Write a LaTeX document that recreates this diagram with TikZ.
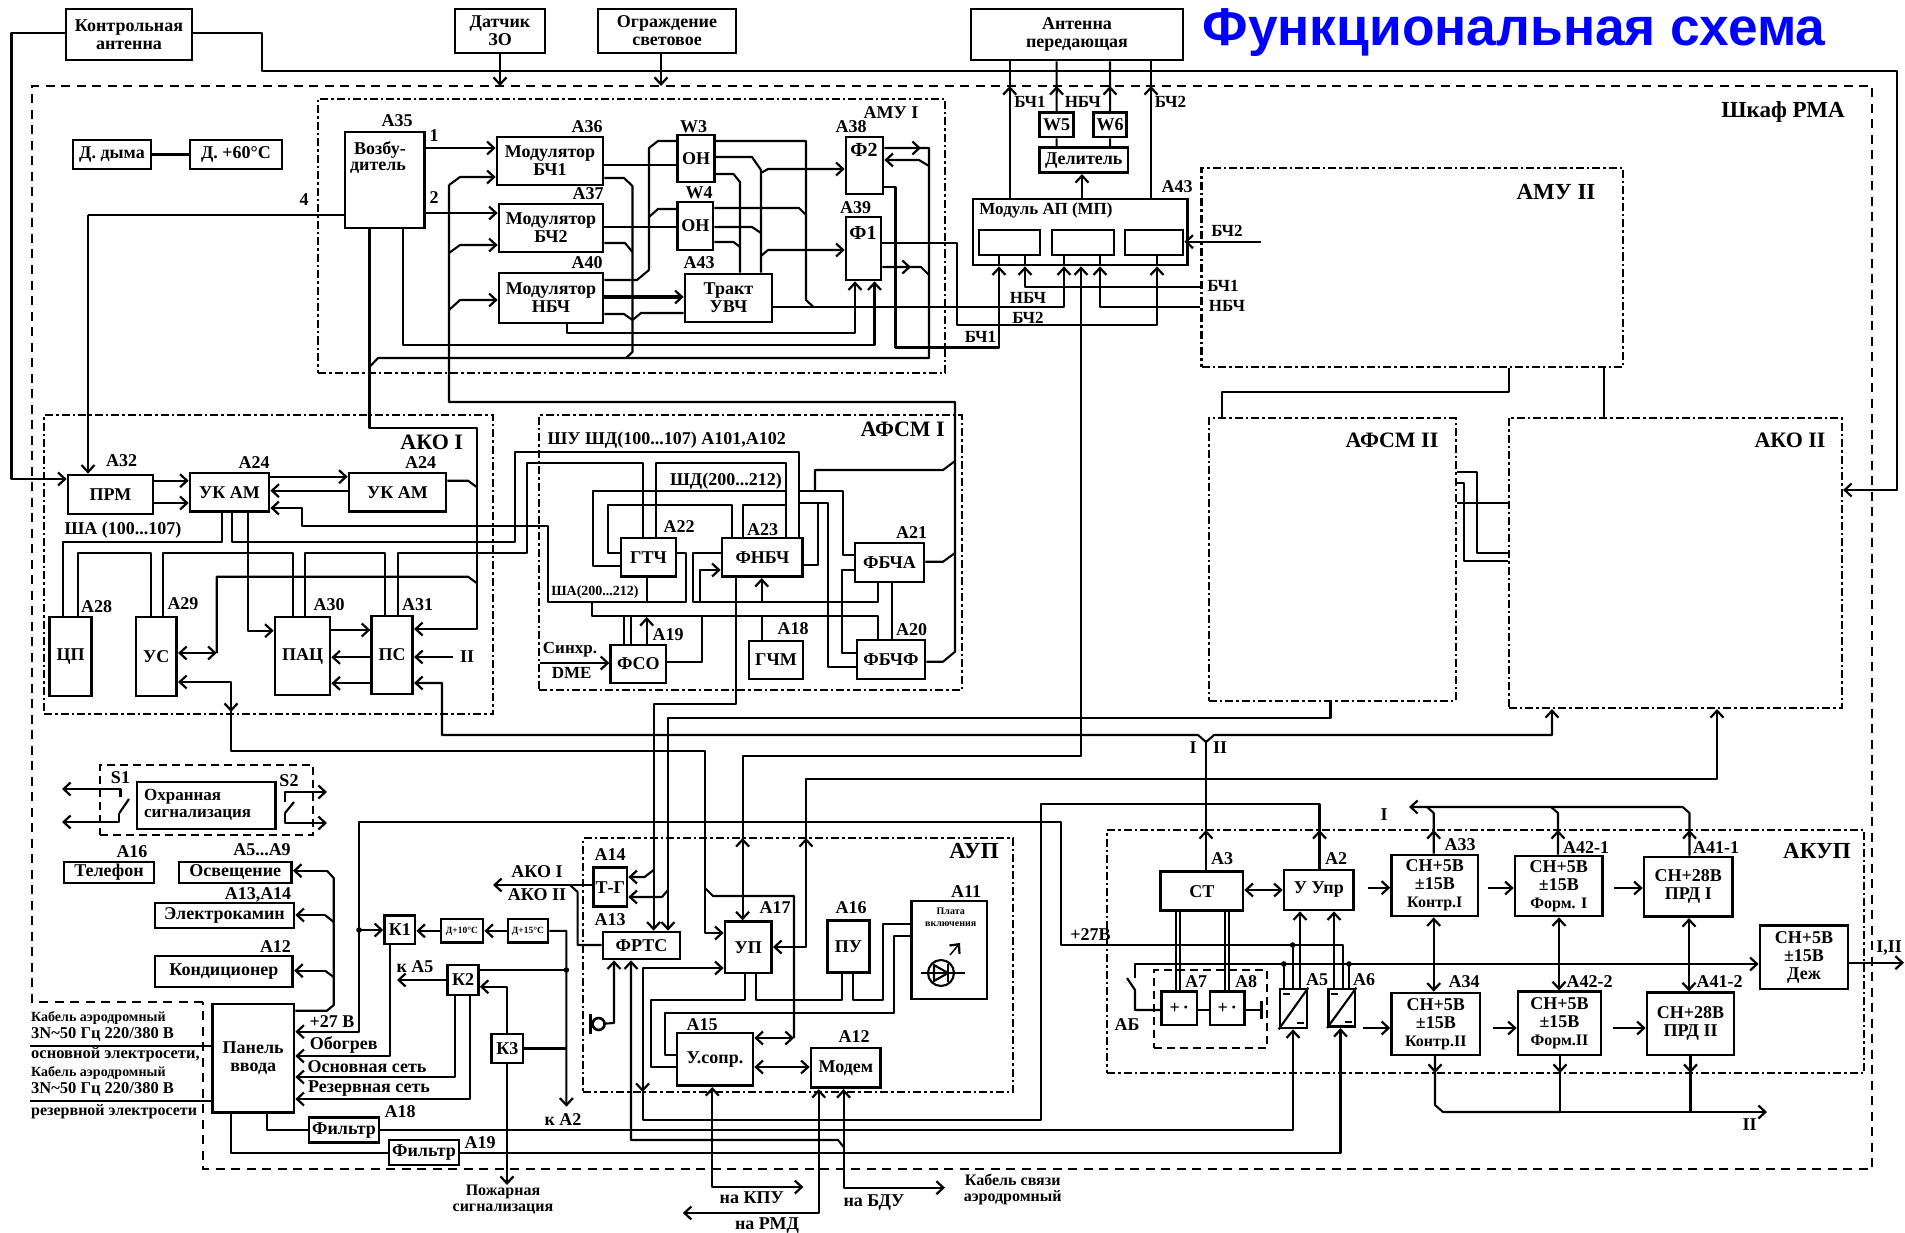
\documentclass[tikz,border=0pt]{standalone}
\usepackage{fontspec}
\setmainfont{Liberation Serif}
\newfontfamily\titlefont{Liberation Sans}
\usetikzlibrary{arrows.meta}
\newcounter{lbl}
\tikzset{
  wire/.style={line width=2.1pt,line join=round},
  box/.style={draw,line width=2.7pt,inner sep=0pt,align=center,font=\txt},
  frdd/.style={draw,line width=2.1pt,dash pattern=on 8pt off 3pt on 2.5pt off 3pt,inner sep=0pt},
  frd/.style={draw,line width=2.4pt,dash pattern=on 8pt off 5pt,inner sep=0pt},
  maindash/.style={line width=2.8pt,dash pattern=on 9pt off 6.5pt},
  >={Straight Barb[length=7pt,width=13pt,line width=2.2pt]},
  lab/.style={inner sep=0pt,align=center,font=\txt},
}
\newcommand{\txt}{\fontsize{18}{18}\selectfont\bfseries}
\newcommand{\bx}[7][box]{\pgfmathsetmacro\cxx{(#3+#5)/2}\pgfmathsetmacro\cyy{(#4+#6)/2}\pgfmathsetmacro\ww{#5-#3}\pgfmathsetmacro\hh{#6-#4}\node[#1,minimum width=\ww pt,minimum height=\hh pt] (#2) at (\cxx,\cyy) {#7};}
\newcommand{\lb}[4][18]{\stepcounter{lbl}\node[lab,font=\fontsize{#1}{#1}\selectfont\bfseries] (t\thelbl) at (#2,#3) {#4};}
\newcommand{\lbw}[4][18]{\stepcounter{lbl}\node[lab,anchor=west,font=\fontsize{#1}{#1}\selectfont\bfseries] (t\thelbl) at (#2,#3) {#4};}
\newcommand{\tu}[2]{\draw[wire,->] (#1,#2+7) -- (#1,#2);}
\newcommand{\td}[2]{\draw[wire,->] (#1,#2-7) -- (#1,#2);}
\newcommand{\tr}[2]{\draw[wire,->] (#1-7,#2) -- (#1,#2);}
\newcommand{\dotat}[2]{\fill (#1,#2) circle (2.8pt);}
\begin{document}
\begin{tikzpicture}[x=1pt,y=-1pt]
\useasboundingbox (0,0) rectangle (1905,1233);
\fill[white] (0,0) rectangle (1905,1233);
% --- frames
\draw[maindash] (203,1002) -- (32,1002) -- (32,86) -- (1872,86) -- (1872,1169) -- (203,1169) -- cycle;
\coordinate (mainT) at (0,86);
\bx[frdd]{amuone}{318}{99}{945}{373}{}
\bx[frdd]{amutwo}{1201.5}{168}{1623}{367}{}
\bx[frdd]{akoone}{44}{415}{493}{714}{}
\bx[frdd]{akotwo}{1508.7}{418}{1842}{708}{}
\bx[frdd]{afone}{539}{415}{961.7}{690}{}
\bx[frdd]{aftwo}{1208.7}{418}{1455.7}{700.7}{}
\bx[frdd]{aup}{583}{838}{1013}{1092}{}
\bx[frdd]{akup}{1107}{830}{1864}{1073}{}
\bx[frd]{afr}{1153.7}{970}{1266.8}{1048}{}
\bx[frd]{ohrf}{100}{765}{313}{835}{}
% --- boxes
\bx{ka}{66}{9}{192}{60}{Контрольная\\антенна}
\bx{dat}{455}{9}{545}{53}{Датчик\\ЗО}
\bx{ogr}{598}{9}{736}{53}{Ограждение\\световое}
\bx{ant}{971}{9}{1183}{60}{Антенна\\передающая}
\bx{ddym}{73}{140}{151}{169}{Д. дыма}
\bx{dsix}{190}{140}{282}{169}{Д. +60°С}
\bx{vozb}{345}{132}{424.5}{228}{}
\bx{mbo}{497}{137}{603}{185}{Модулятор\\БЧ1}
\bx{mbt}{499}{204}{603}{252}{Модулятор\\БЧ2}
\bx{mn}{499}{273}{603}{323}{Модулятор\\НБЧ}
\bx{onth}{677.5}{135}{714.6}{182}{ОН}
\bx{onfo}{677.5}{202}{713}{250}{ОН}
\bx{trakt}{685}{274}{772}{322}{Тракт\\УВЧ}
\bx{ftw}{846}{137}{883}{194}{}
\bx{fon}{846}{217}{881}{280}{}
\bx{wfv}{1039.5}{112.7}{1073.6}{137}{W5}
\bx{wsx}{1093.7}{112.7}{1126.6}{137}{W6}
\bx{del}{1039.5}{147.7}{1128}{172.7}{Делитель}
\bx{map}{973}{199}{1187.5}{265}{}
\bx{bo}{979}{230}{1040}{255}{}
\bx{bt}{1052}{230}{1114}{255}{}
\bx{bh}{1125}{230}{1183}{255}{}
\bx{prm}{68}{475}{153}{514}{ПРМ}
\bx{ukone}{190}{473}{269}{511.7}{УК АМ}
\bx{uktwo}{349}{473}{446}{511.7}{УК АМ}
\bx{cp}{49.3}{617}{91.7}{696}{ЦП}
\bx{us}{136}{617}{176.7}{696}{УС}
\bx{pac}{275}{617}{330}{695}{ПАЦ}
\bx{ps}{371.7}{616}{412.7}{694}{ПС}
\bx{gtch}{621}{538}{676}{576.7}{ГТЧ}
\bx{fnbch}{722}{538}{802.7}{576.7}{ФНБЧ}
\bx{fbcha}{855}{543}{924}{582}{ФБЧА}
\bx{fbchf}{857}{640}{925}{679}{ФБЧФ}
\bx{fso}{610.7}{645}{666}{683}{ФСО}
\bx{gchm}{749}{641}{803}{679}{ГЧМ}
\bx{ohr}{137}{782}{275.5}{829}{}
\bx{tel}{64}{862}{154}{883}{Телефон}
\bx{osv}{179}{862}{291.6}{883}{Освещение}
\bx{elk}{155}{903}{294}{928}{Электрокамин}
\bx{kond}{155}{956}{292.8}{987}{Кондиционер}
\bx{panel}{212.4}{1004}{294}{1112.7}{Панель\\ввода}
\bx{kon}{384.6}{915.7}{415}{944}{К1}
\bx{ktw}{447.8}{965}{478.4}{995}{К2}
\bx{kth}{491.8}{1034}{523}{1063}{К3}
\bx{dten}{441}{919}{483}{942.7}{\fontsize{9.5}{10}\selectfont Д+10°С}
\bx{dff}{508}{919}{548}{942.7}{\fontsize{9.5}{10}\selectfont Д+15°С}
\bx{fila}{309}{1117.7}{379}{1142.7}{Фильтр}
\bx{filb}{389}{1140}{459}{1165}{Фильтр}
\bx{tg}{593.7}{867.7}{627}{906.7}{Т-Г}
\bx{frts}{603}{932}{680}{959}{ФРТС}
\bx{up}{725}{921.7}{771.6}{973}{УП}
\bx{pu}{827.5}{920.7}{869.6}{972.7}{ПУ}
\bx{plata}{911.7}{901}{987}{999}{}
\bx{usopr}{677}{1033}{753}{1085.7}{У.сопр.}
\bx{modem}{811}{1048}{880.7}{1087.7}{Модем}
\bx{st}{1160.5}{871.7}{1243}{910.7}{СТ}
\bx{uupr}{1284}{870}{1353.7}{910}{У Упр}
\bx{caa}{1391.6}{855}{1478}{916}{СН+5В\\±15В\\\fontsize{16}{17}\selectfont Контр.I}
\bx{cab}{1515}{856}{1602.6}{916}{СН+5В\\±15В\\\fontsize{16}{17}\selectfont Форм. I}
\bx{cac}{1644}{857}{1732.6}{916.7}{СН+28В\\ПРД I}
\bx{cba}{1391.6}{993}{1480}{1055}{СН+5В\\±15В\\\fontsize{16}{17}\selectfont Контр.II}
\bx{cbb}{1518}{991.7}{1601}{1055}{СН+5В\\±15В\\\fontsize{16}{17}\selectfont Форм.II}
\bx{cbc}{1647}{992.7}{1734}{1055}{СН+28В\\ПРД II}
\bx{dezh}{1760}{925.7}{1848}{989}{СН+5В\\±15В\\Деж}
\bx{aseven}{1161.6}{991.7}{1197}{1025}{+\,·}
\bx{aeight}{1210}{991.7}{1244.7}{1025}{+\,·}
\bx{afive}{1280}{989}{1307}{1028}{}
\bx{asix}{1328.4}{989}{1355}{1026.7}{}
% --- free ends
\coordinate (iin) at (453,657);
\coordinate (bchr) at (1260.6,241.7);
\coordinate (mic) at (598.6,1024);
\begin{scope}[wire]
% outer
\draw[->] (ka.west|-0,33) -- (11.5,33) -- (11.5,479) -- (prm.west|-0,479);
\draw[->] (ka.east|-0,33) -- (262,33) -- (262,71) -- (1897,71) -- (1897,490) -- (akotwo.east|-0,490);
\draw[->] (dat.south) -- (dat.south|-mainT);
\draw[->] (ogr.south-|661,0) -- (661,86);
\draw (ddym) -- (dsix);
% antenna
\foreach \x in {1009.7,1151} {\draw (map.north-|\x,0) -- (ant.south-|\x,0); \tu{\x}{86}}
\draw (wfv.north) -- (ant.south-|1056.6,0); \tu{1056.6}{86}
\draw (wsx.north) -- (ant.south-|1110,0); \tu{1110}{86}
\draw (wfv.south) -- (del.north-|1056.6,0);
\draw (wsx.south) -- (del.north-|1110,0);
\draw[->] (map.north-|1082,0) -- (del.south-|1082,0);
\foreach \x/\b in {999/bo,1025/bo,1064/bt,1100/bt,1157/bh} \draw (map.south-|\x,0) -- (\b.south-|\x,0);
\draw[->] (ftw.east|-0,187) -- (895.5,187) -- (895.5,347.5) -- (999,347.5) -- (map.south-|999,0);
\draw[->] (amutwo.west|-0,287) -- (1025,287) -- (map.south-|1025,0);
\draw[->] (amutwo.west|-0,306.7) -- (1100,306.7) -- (map.south-|1100,0);
\draw[->] (bchr) -- (bh.east|-bchr);
\draw[->] (trakt.east|-0,307) -- (1064,307) -- (map.south-|1064,0);
\draw[->] (fon.east|-0,243) -- (956.7,243) -- (956.7,325) -- (1157,325) -- (map.south-|1157,0);
\draw[<->] (up.north-|742.6,0) -- (742.6,756) -- (1081,756) -- (map.south-|1081,0); \tu{742.6}{838}
\draw[<->] (up.east|-0,947) -- (806,947) -- (806,779) -- (1717,779) -- (akotwo.south-|1717,0); \tu{806}{838}
% Y branch
\coordinate (yj) at (1206,742);
\draw[<-] (ps.east|-0,683) -- (442,683) -- (442,735) -- (1198,735) -- (yj);
\draw (st.north-|1206,0) -- (yj); \tu{1206}{830}
\draw[->] (yj) -- (1214,735) -- (1552,735) -- (akotwo.south-|1552,0);
\draw[<->] (us.east|-0,682) -- (231,682) -- (231,751) -- (705,751) -- (705,933) -- (up.west|-0,933); \td{231}{712}
\draw (705,888) -- (713,896) -- (794,896) -- (794,1038);
\draw[<->] (usopr.east|-0,1038) -- (794,1038);
% FRTS
\draw[->] (fnbch.south-|736,0) -- (736,704) -- (653.6,704) -- (frts.north-|653.6,0);
\draw[->] (653.6,870) -- (644.6,877) -- (tg.east|-0,877);
\draw[->] (aftwo.south-|1330.5,0) -- (1330.5,718) -- (668,718) -- (frts.north-|668,0);
\draw[->] (668,890) -- (662,897) -- (tg.east|-0,897);
\draw[->] (tg.west|-0,885) -- (493,885);
\draw (570,885) -- (577.6,892) -- (577.6,945) -- (frts.west|-0,945);
\draw[<-] (frts.south-|614,0) -- (614,1023) -- (mic);
\draw[line width=2.6pt,fill=white] (mic) circle (6pt);
\draw[line width=3.5pt] (590.5,1014) -- (590.5,1034);
\draw[<-] (frts.south-|631,0) -- (631,1140) -- (838,1140) -- (843.6,1147);
\draw[<->] (modem.south-|843.6,0) -- (843.6,1187.7) -- (945,1187.7);
\draw[<->] (modem.south-|818.7,0) -- (818.7,1213) -- (682.8,1213);
\draw[<->] (usopr.south-|712.3,0) -- (712.3,1187) -- (803.4,1187);
\draw[->] (uupr.north-|1319.5,0) -- (1319.5,804) -- (1040.6,804) -- (1040.6,1120) -- (642.6,1120) -- (642.6,968) -- (up.west|-0,968); \tu{1319.5}{830} \td{642.6}{1092}
\draw (up.south-|745,0) -- (745,1000) -- (651.4,1000) -- (651.4,1067) -- (usopr.west|-0,1067);
\draw (up.south-|756,0) -- (756,1000) -- (841.6,1000) -- (pu.south-|841.6,0);
\draw (pu.south-|853,0) -- (853,1000) -- (882.6,1000) -- (882.6,924) -- (plata.west|-0,924);
\draw (plata.west|-0,936) -- (894,936) -- (894,1013) -- (664.8,1013) -- (664.8,1055) -- (usopr.west|-0,1055);
\draw[<->] (usopr.east|-0,1067) -- (modem.west|-0,1067);
% +27
\draw[<-] (panel.east|-0,1031.7) -- (359,1031.7) -- (359,821.7) -- (1061,821.7) -- (1061,945) -- (1343,945) -- (asix.north-|1343,0);
\draw[->] (359,930) -- (kon.west|-0,930); \dotat{359}{930}
\draw (1292.6,945) -- (afive.north-|1292.6,0); \dotat{1292.6}{945}
\draw (panel.east|-0,1010.7) -- (327,1010.7) -- (333.7,1005) -- (333.7,878) -- (327,870.7);
\draw[->] (327,870.7) -- (osv.east|-0,870.7);
\draw[->] (325,915) -- (elk.east|-0,915); \draw (325,915) -- (333.7,922);
\draw[->] (325,970.7) -- (kond.east|-0,970.7); \draw (325,970.7) -- (333.7,977);
\draw[->] (kon.south-|390,0) -- (390,1056) -- (panel.east|-0,1056);
\draw[->] (ktw.south-|455.4,0) -- (455.4,1077) -- (panel.east|-0,1077);
\draw[->] (ktw.south-|470,0) -- (470,1099) -- (panel.east|-0,1099);
\draw[->] (dten.west) -- (kon.east|-dten.west);
\draw[->] (dff.west) -- (dten.east);
\draw[->] (dff.east) -- (566.4,930.85) -- (566.4,1106.7);
\draw (ktw.east|-0,970) -- (566.4,970); \dotat{566.4}{970}
\draw[->] (ktw.west|-0,980) -- (397,980);
\draw[<-] (ktw.east|-0,986.7) -- (507,986.7) -- (kth.north-|507,0);
\draw (kth.east) -- (566.4,1048.5);
\draw[->] (kth.south-|507,0) -- (507,1185);
\draw (panel.west|-0,1045.7) -- (30,1045.7);
\draw (panel.west|-0,1101) -- (30,1101);
\draw (panel.south-|266.7,0) -- (266.7,1130) -- (fila.west|-0,1130);
\draw (panel.south-|230.8,0) -- (230.8,1152.7) -- (filb.west|-0,1152.7);
\draw[->] (fila.east|-0,1130) -- (1293,1130) -- (afive.south-|1293,0);
\draw[->] (filb.east|-0,1152.7) -- (1340.5,1152.7) -- (asix.south-|1340.5,0);
% AMU I
\draw (449,185) -- (449,402) -- (955,402) -- (955,651.7) -- (943,661.7) -- (fbchf.east|-0,661.7);
\draw[->] (449,185) -- (460,177) -- (mbo.west|-0,177);
\draw[->] (449,253) -- (460,245) -- (mbt.west|-0,245);
\draw[->] (449,310) -- (460,300) -- (mn.west|-0,300);
\draw[->] (vozb.east|-0,148) -- (mbo.west|-0,148);
\draw[->] (vozb.east|-0,213) -- (mbt.west|-0,213);
\draw (vozb.west|-0,215) -- (88,215);
\draw[->] (88,215) -- (prm.north-|88,0);
\draw[->] (vozb.south-|369.5,0) -- (369.5,428) -- (476.7,428) -- (476.7,629) -- (ps.east|-0,629);
\draw (369.5,367) -- (378,358) -- (929,358) -- (929,148) -- (ftw.east|-0,148); \tr{921}{148}
\draw[->] (929,166) -- (919,160) -- (ftw.east|-0,160);
\draw (fon.east|-0,267) -- (921,267) -- (929,275); \tr{911}{267}
\draw (mbo.east|-0,178) -- (624,178) -- (632.5,186) -- (632.5,352) -- (626,358);
\draw (mbt.east|-0,243) -- (625,243) -- (632.5,252);
\draw (mn.east|-0,314) -- (624,314) -- (632.5,320) -- (641,313) -- (trakt.west|-0,313);
\draw (mbo.east|-0,165) -- (onth.west|-0,165);
\draw (mbt.east|-0,227) -- (onfo.west|-0,227);
\draw (mn.east|-0,280) -- (637,280) -- (649,270) -- (649,148) -- (658,141) -- (onth.west|-0,141);
\draw (649,217) -- (658,209) -- (onfo.west|-0,209);
\draw[->,line width=3.4pt] (mn.east|-0,297) -- (trakt.west|-0,297);
\draw[->] (mn.south-|567,0) -- (567,333) -- (855,333) -- (fon.south-|855,0);
\draw[->] (vozb.south-|403,0) -- (403,345) -- (874.5,345) -- (fon.south-|874.5,0);
\draw (onth.east|-0,141) -- (806,141) -- (806,300) -- (813.5,307);
\draw (onth.east|-0,157) -- (752,157) -- (761,170) -- (trakt.north-|761,0);
\draw[->] (761,173) -- (768,169) -- (ftw.west|-0,169);
\draw (onth.east|-0,174) -- (733.5,174) -- (740,182) -- (trakt.north-|740,0);
\draw (onfo.east|-0,208) -- (799,208) -- (806,215);
\draw (onfo.east|-0,227) -- (752,227) -- (761,233);
\draw[->] (761,256) -- (768,250) -- (fon.west|-0,250);
\draw (onfo.east|-0,242) -- (733.5,242) -- (740,247);
% AMU II links
\draw (amutwo.south-|1508.7,0) -- (1508.7,391.7) -- (1222,391.7) -- (aftwo.north-|1222,0);
\draw (amutwo.south-|1604,0) -- (akotwo.north-|1604,0);
\draw (aftwo.east|-0,471.7) -- (1477.4,471.7) -- (1477.4,552.7) -- (akotwo.west|-0,552.7);
\draw (aftwo.east|-0,483) -- (1464,483) -- (1464,561) -- (akotwo.west|-0,561);
\draw (aftwo.east|-0,503) -- (akotwo.west|-0,503);
% AKO I
\draw[->] (prm.east|-0,480.7) -- (ukone.west|-0,480.7);
\draw[->] (prm.east|-0,503) -- (ukone.west|-0,503);
\draw[->] (ukone.east|-0,476.7) -- (uktwo.west|-0,476.7);
\draw[->] (uktwo.west|-0,490.7) -- (ukone.east|-0,490.7);
\draw[<-] (ukone.east|-0,508) -- (301.7,508) -- (301.7,525.7) -- (548,525.7) -- (548,601.7) -- (685.7,601.7) -- (685.7,553) -- (gtch.east|-0,553);
\draw (ukone.south-|232,0) -- (232,542.3) -- (515,542.3) -- (515,451.7) -- (799,451.7) -- (fnbch.north-|799,0);
\draw (ukone.south-|221.7,0) -- (221.7,542) -- (63,542) -- (cp.north-|63,0);
\draw[->] (ukone.south-|248.3,0) -- (248.3,630.7) -- (pac.west|-0,630.7);
\draw (cp.north-|78.3,0) -- (78.3,553.3) -- (150.7,553.3) -- (us.north-|150.7,0);
\draw (us.north-|163.3,0) -- (163.3,553.3) -- (292.7,553.3) -- (pac.north-|292.7,0);
\draw (pac.north-|305,0) -- (305,553.3) -- (385,553.3) -- (ps.north-|385,0);
\draw (ps.north-|398,0) -- (398,553.3) -- (526.7,553.3) -- (526.7,463.3) -- (643.3,463.3) -- (gtch.north-|643.3,0);
\draw[<->] (us.east|-0,653) -- (216.7,653);
\draw (216.7,653) -- (216.7,576.7) -- (468,576.7) -- (476.7,583);
\draw (uktwo.east|-0,480.7) -- (468,480.7) -- (476.7,487);
\draw[->] (pac.east|-0,630) -- (ps.west|-0,630);
\draw[->] (ps.west|-0,657.3) -- (pac.east|-0,657.3);
\draw[->] (ps.west|-0,683.3) -- (pac.east|-0,683.3);
\draw[->] (iin) -- (ps.east|-iin);
% AFSM I
\draw (gtch.north-|656,0) -- (656,463.3) -- (785.7,463.3) -- (fnbch.north-|785.7,0);
\draw (gtch.west|-0,565.7) -- (593,565.7) -- (593,491) -- (785.7,491);
\draw (gtch.west|-0,553) -- (608,553) -- (608,505) -- (731.7,505) -- (fnbch.north-|731.7,0);
\draw (fnbch.north-|742.7,0) -- (742.7,505) -- (785.7,505);
\draw (799,491) -- (843,491) -- (843,555) -- (fbcha.west|-0,555);
\draw (799,503) -- (828.3,503) -- (828.3,666.7) -- (fbchf.west|-0,666.7);
\draw (818,503) -- (818,565) -- (fnbch.east|-0,565);
\draw (815,491) -- (815,470) -- (943,470) -- (955,461);
\draw (955,553) -- (943,561.7) -- (fbcha.east|-0,561.7);
\draw (fbcha.west|-0,570) -- (841.7,570) -- (841.7,653) -- (fbchf.west|-0,653);
\draw (fbcha.south-|878.3,0) -- (878.3,601.7) -- (693,601.7) -- (693,553) -- (fnbch.west|-0,553);
\draw (fbcha.south-|891.7,0) -- (fbchf.north-|891.7,0);
\draw (fbchf.north-|878.3,0) -- (878.3,616) -- (591.7,616) -- (591.7,601.7) -- (548,601.7);
\draw (gtch.south-|646.7,0) -- (646.7,601.7);
\draw[->] (700,601.7) -- (700,570) -- (fnbch.west|-0,570);
\draw[->] (761.7,601.7) -- (fnbch.south-|761.7,0);
\draw (gchm.north-|761.7,0) -- (761.7,616);
\draw (701.7,616) -- (701.7,661.7) -- (fso.east|-0,661.7);
\draw (fso.north-|624,0) -- (624,616);
\draw (fso.north-|631,0) -- (631,616);
\draw[->] (fso.north-|646.7,0) -- (646.7,617);
\draw[->] (540,663) -- (fso.west|-0,663);
% AKUP
\draw[<->] (st.east|-0,890) -- (uupr.west|-0,890);
\coordinate (ain) at (1368.4,887.7); \draw[->] (ain) -- (caa.west|-ain);
\coordinate (bin) at (1488,888); \draw[->] (bin) -- (cab.west|-bin);
\coordinate (cin) at (1614,888); \draw[->] (cin) -- (cac.west|-cin);
\coordinate (din) at (1362.6,1028); \draw[->] (din) -- (cba.west|-din);
\coordinate (ein) at (1493,1028); \draw[->] (ein) -- (cbb.west|-ein);
\coordinate (fin) at (1612.6,1028); \draw[->] (fin) -- (cbc.west|-fin);
\draw[->] (cac.north-|1689.5,0) -- (1689.5,813) -- (1682.6,807) -- (1409,807);
\draw (caa.north-|1433.7,0) -- (1433.7,813) -- (1427,807);
\draw (cab.north-|1558,0) -- (1558,813) -- (1551,807);
\tu{1433.7}{830} \tu{1558}{830} \tu{1689.5}{830}
\draw[<->] (caa.south-|1433.7,0) -- (cba.north-|1433.7,0);
\draw[<->] (cab.south-|1559,0) -- (cbb.north-|1559,0);
\draw[<->] (cac.south-|1689,0) -- (cbc.north-|1689,0);
\draw[->] (1135,978) -- (1135,964) -- (dezh.west|-0,964);
\draw (1127,978) -- (1135,990) -- (1135,1010) -- (aseven.west|-0,1010);
\draw (aseven.east|-0,1010) -- (aeight.west|-0,1010);
\draw (aeight.east|-0,1010) -- (1261.6,1010);
\draw[line width=2.8pt] (1261.6,1001) -- (1261.6,1019);
\foreach \x in {1176,1180} \draw (st.south-|\x,0) -- (aseven.north-|\x,0);
\foreach \x in {1224.7,1229} \draw (st.south-|\x,0) -- (aeight.north-|\x,0);
\draw (1283.7,964) -- (afive.north-|1283.7,0); \dotat{1283.7}{964}
\draw (1349,964) -- (asix.north-|1349,0); \dotat{1349}{964}
\draw[->] (afive.north-|1300,0) -- (uupr.south-|1300,0);
\draw[->] (asix.north-|1334,0) -- (uupr.south-|1334,0);
\draw (afive.south west) -- (afive.north east);
\draw (asix.south west) -- (asix.north east);
\draw (1283,994) -- (1290,994); \draw (1297,1023) -- (1304,1023);
\draw (1331,994) -- (1338,994); \draw (1345,1022) -- (1352,1022);
\draw[->] (dezh.east|-0,962.7) -- (1904,962.7);
\draw (1435,1055) -- (1435,1105) -- (1443,1112) -- (1560,1112);
\draw[->] (cba.south-|1435,0) -- (1435,1073);
\draw[->] (1443,1112) -- (1767,1112);
\draw (cbb.south-|1560,0) -- (1560,1112);
\draw (cbc.south-|1690.5,0) -- (1690.5,1112);
\td{1560}{1073} \td{1690.5}{1073}
% security
\draw[->] (120.5,797) -- (120.5,789) -- (62,789);
\draw[->] (119.4,813) -- (119.4,822) -- (62,822);
\draw (129,799) -- (119.4,813);
\draw[->] (285,802) -- (285,792) -- (327,792);
\draw[->] (285,813) -- (285,823) -- (327,823);
\draw (294,802) -- (285,813);
% LED
\draw (941,973) circle (13pt);
\draw (921,973) -- (965,973);
\draw (934,965) -- (934,981) -- (948,973) -- cycle;
\draw (948,964) -- (948,982);
\draw[->,line width=1.5pt] (950,955) -- (960,943);
\end{scope}
% --- labels
\node[inner sep=0pt,text=blue,font=\titlefont\bfseries\fontsize{53.3}{54}\selectfont] (title) at (1514,33) {Функциональная схема};
\lb[23]{1783}{112}{Шкаф РМА}
\lb[23]{1556}{192}{АМУ II}
\lb[22]{431.7}{442}{АКО I}
\lb[22]{902.7}{429}{АФСМ I}
\lb[22]{1392}{440}{АФСМ II}
\lb[22]{1790}{440}{АКО II}
\lb[23]{974}{851}{АУП}
\lb[23]{1817}{850.7}{АКУП}
\lb{891}{113}{АМУ I}
\lb{397}{121}{А35}
\lb{434}{136}{1}
\lb{434}{198}{2}
\lb{304}{200}{4}
\lb{380}{150}{Возбу-}
\lb{378}{168}{дитель}
\lb{587}{127}{А36}
\lb{588}{194}{А37}
\lb{587}{263}{А40}
\lb{693.5}{127}{W3}
\lb{699}{193}{W4}
\lb{699}{263}{А43}
\lb{851}{127}{А38}
\lb{855.5}{208}{А39}
\lb[20]{864}{150}{Ф2}
\lb[20]{863}{233}{Ф1}
\lb[17]{1030}{101.7}{БЧ1}
\lb[17]{1082.8}{101.7}{НБЧ}
\lb[17]{1170.5}{101.7}{БЧ2}
\lb{1177}{187}{А43}
\lb[17]{1046}{210}{Модуль АП (МП)}
\lb[17]{1227}{231}{БЧ2}
\lb[17]{1223}{286}{БЧ1}
\lb[17]{1227}{306}{НБЧ}
\lb[17]{1028}{298}{НБЧ}
\lb[17]{1028}{318}{БЧ2}
\lb[17]{980.5}{336.7}{БЧ1}
\lb{121.7}{461}{А32}
\lb{254}{463}{А24}
\lb{420.7}{463}{А24}
\lb{123}{530}{ША (100...107)}
\lb{96.7}{607}{А28}
\lb{183}{604}{А29}
\lb{329}{605}{А30}
\lb{417.7}{605}{А31}
\lb{467}{657}{II}
\lb{666.7}{440}{ШУ ШД(100...107) А101,А102}
\lb{726}{481}{ШД(200...212)}
\lb{679}{526.7}{А22}
\lb{762.7}{530}{А23}
\lb{911.7}{533}{А21}
\lb{911.7}{630}{А20}
\lb{793}{629}{А18}
\lb{668}{635}{А19}
\lb[14]{595}{591.7}{ША(200...212)}
\lb[17]{570}{650}{Синхр.}
\lb[17]{571.7}{673}{DME}
\lb{1193}{748}{I}
\lb{1220}{748}{II}
\lb{120.5}{778}{S1}
\lb{289}{781}{S2}
\lbw[17]{144}{797}{Охранная}
\lbw[17]{144}{815}{сигнализация}
\lb{132}{852}{А16}
\lb{262}{850}{А5...А9}
\lb{258}{895}{А13,А14}
\lb{275.5}{947}{А12}
\lb{332}{1022}{+27 В}
\lb{343.7}{1045}{Обогрев}
\lb{367}{1067}{Основная сеть}
\lb{369}{1089}{Резервная сеть}
\lbw[14]{31}{1018}{Кабель аэродромный}
\lbw[16.5]{31}{1034}{3N\textasciitilde50 Гц 220/380 В}
\lbw[16.5]{31}{1055}{основной электросети,}
\lbw[14]{31}{1073}{Кабель аэродромный}
\lbw[16.5]{31}{1089}{3N\textasciitilde50 Гц 220/380 В}
\lbw[16]{31}{1112}{резервной электросети}
\lb{400}{1112}{А18}
\lb{480}{1142.7}{А19}
\lb{415}{966.7}{к А5}
\lb{563}{1120}{к А2}
\lb[16]{503}{1200}{Пожарная\\сигнализация}
\lb{610}{855}{А14}
\lb{610}{920}{А13}
\lb{537}{872}{АКО I}
\lb{537}{895}{АКО II}
\lb{775}{908}{А17}
\lb{851}{908}{А16}
\lb{966}{892}{А11}
\lb[10]{950.7}{917}{Плата\\[2pt]включения}
\lb{702}{1025}{А15}
\lb{854}{1037}{А12}
\lb{751.7}{1198}{на КПУ}
\lb{767}{1226}{на РМД}
\lb{874}{1203}{на БДУ}
\lb[16]{1012.7}{1189}{Кабель связи\\аэродромный}
\lb{1222}{859}{А3}
\lb{1336}{859}{А2}
\lb{1460}{845}{А33}
\lb{1586}{848}{А42-1}
\lb{1716}{848}{А41-1}
\lb{1464}{981.7}{А34}
\lb{1589.5}{982}{А42-2}
\lb{1719.5}{982}{А41-2}
\lb{1196}{981.7}{А7}
\lb{1246}{981.7}{А8}
\lb{1317}{980}{А5}
\lb{1364}{980}{А6}
\lb{1127}{1025}{АБ}
\lb{1090.5}{935}{+27В}
\lb{1889}{948}{I,II}
\lb{1384}{815}{I}
\lb{1749.5}{1125}{II}
\end{tikzpicture}
\end{document}
